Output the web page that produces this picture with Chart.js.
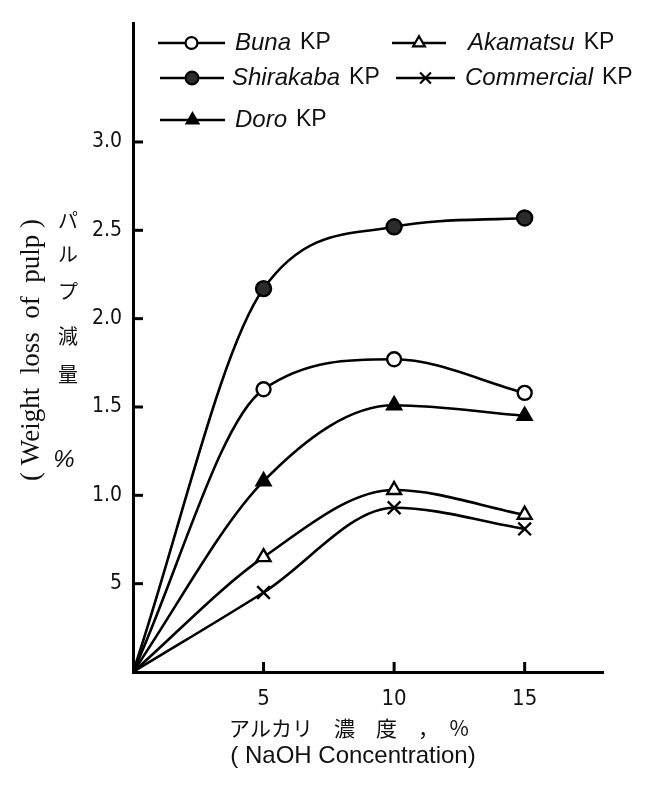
<!DOCTYPE html>
<html>
<head>
<meta charset="utf-8">
<script src="https://cdn.jsdelivr.net/npm/chart.js@4.4.1/dist/chart.umd.min.js"></script>
<style>
  html, body { margin: 0; padding: 0; background: #fff; }
  #wrap { width: 645px; height: 789px; }
</style>
</head>
<body>
<div id="wrap"><canvas id="chart" width="645" height="789"></canvas></div>
<script>
/* DATA */
const naoh = [0, 5, 10, 15];
const seriesNames = ["Buna", "Shirakaba", "Doro", "Akamatsu", "Commercial"];
const buna = [0, 1.60, 1.77, 1.58];
const shirakaba = [0, 2.17, 2.52, 2.57];
const doro = [0, 1.08, 1.51, 1.45];
const akamatsu = [0, 0.65, 1.03, 0.89];
const commercial = [0, 0.45, 0.93, 0.81];
const xTicks = [5, 10, 15];
const yTicks = [0.5, 1.0, 1.5, 2.0, 2.5, 3.0];
const yTickLabels = ["5", "1.0", "1.5", "2.0", "2.5", "3.0"];

const values = [buna, shirakaba, doro, akamatsu, commercial];

/* MARKER STYLES */
const markers = [
  { pointStyle: "circle", fill: "#fff", radius: 7 },
  { pointStyle: "circle", fill: "#2b2b2b", radius: 7.5 },
  { pointStyle: "triangle", fill: "#000", radius: 8 },
  { pointStyle: "triangle", fill: "#fff", radius: 8 },
  { pointStyle: "crossRot", fill: "#000", radius: 9 }
];

const datasets = seriesNames.map((name, i) => ({
  label: name + " KP",
  data: naoh.map((x, j) => ({ x: x, y: values[i][j] })),
  borderColor: "#000",
  borderWidth: 2.6,
  cubicInterpolationMode: "monotone",
  fill: false,
  pointStyle: markers[i].pointStyle,
  pointBackgroundColor: markers[i].fill,
  pointBorderColor: "#000",
  pointBorderWidth: 2.4,
  pointRadius: naoh.map(x => x === 0 ? 0 : markers[i].radius),
  pointHoverRadius: naoh.map(x => x === 0 ? 0 : markers[i].radius)
}));

/* LEGEND (drawn inside the plot, two columns) */
const legendSlots = [
  { ds: 0, x0: 158, x1: 225, y: 43, tx: 235 },
  { ds: 1, x0: 160, x1: 224, y: 78, tx: 232 },
  { ds: 2, x0: 160, x1: 225, y: 120, tx: 235 },
  { ds: 3, x0: 392, x1: 446, y: 43, tx: 468 },
  { ds: 4, x0: 396, x1: 455, y: 78, tx: 465 }
];

const legendPlugin = {
  id: "paperLegend",
  afterDraw(chart) {
    const ctx = chart.ctx;
    ctx.save();
    legendSlots.forEach(s => {
      const ds = chart.data.datasets[s.ds];
      const m = markers[s.ds];
      ctx.strokeStyle = "#000";
      ctx.lineWidth = 2.6;
      ctx.beginPath();
      ctx.moveTo(s.x0, s.y);
      ctx.lineTo(s.x1, s.y);
      ctx.stroke();
      ctx.fillStyle = m.fill;
      ctx.lineWidth = 2.2;
      Chart.helpers.drawPoint(ctx, {
        pointStyle: m.pointStyle,
        radius: m.radius * 0.85,
        rotation: 0,
        borderWidth: 2.2
      }, (s.x0 + s.x1) / 2, s.y);

      const name = ds.label.replace(" KP", "");
      ctx.fillStyle = "#111";
      ctx.textBaseline = "middle";
      ctx.textAlign = "left";
      ctx.font = "italic 24px 'Liberation Sans', sans-serif";
      ctx.fillText(name, s.tx, s.y);
      const w = ctx.measureText(name).width;
      ctx.font = "23px 'Liberation Sans', sans-serif";
      ctx.fillText("KP", s.tx + w + 9, s.y);
    });
    ctx.restore();
  }
};

/* INWARD TICK MARKS + AXIS TITLES */
const axisPlugin = {
  id: "paperAxes",
  afterDraw(chart) {
    const ctx = chart.ctx;
    const xs = chart.scales.x, ys = chart.scales.y;
    const area = chart.chartArea;
    ctx.save();
    ctx.strokeStyle = "#000";
    ctx.lineWidth = 3;
    xTicks.forEach(v => {
      const px = xs.getPixelForValue(v);
      ctx.beginPath();
      ctx.moveTo(px, area.bottom);
      ctx.lineTo(px, area.bottom - 10);
      ctx.stroke();
    });
    yTicks.forEach(v => {
      const py = ys.getPixelForValue(v);
      ctx.beginPath();
      ctx.moveTo(area.left, py);
      ctx.lineTo(area.left + 10, py);
      ctx.stroke();
    });

    ctx.fillStyle = "#111";
    // x title
    ctx.textBaseline = "middle";
    ctx.textAlign = "left";
    ctx.font = "21px 'Noto Sans CJK JP', sans-serif";
    ctx.fillText("アルカリ\u3000濃\u3000度\u3000，\u3000%", 229, 728);
    ctx.font = "24px 'Liberation Sans', sans-serif";
    ctx.textAlign = "center";
    ctx.fillText("( NaOH Concentration)", 353, 756);

    // y title, vertical Japanese
    ctx.font = "20px 'Noto Sans CJK JP', sans-serif";
    const jp = [["パ", 220], ["ル", 254], ["プ", 291], ["減", 336], ["量", 374]];
    jp.forEach(c => ctx.fillText(c[0], 68, c[1]));
    ctx.font = "italic 24px 'Liberation Sans', sans-serif";
    ctx.fillText("%", 64, 460);

    // y title, rotated English
    ctx.translate(32, 350);
    ctx.rotate(-Math.PI / 2);
    ctx.font = "27px 'Liberation Serif', serif";
    ctx.fillText("( Weight  loss  of  pulp )", 0, 0);
    ctx.restore();
  }
};

/* CHART */
const chart = new Chart(document.getElementById("chart"), {
  type: "line",
  data: { datasets: datasets },
  options: {
    responsive: false,
    animation: false,
    layout: { padding: { top: 12, right: 42, left: 0, bottom: 0 } },
    plugins: { legend: { display: false }, tooltip: { enabled: false } },
    scales: {
      x: {
        type: "linear",
        min: 0,
        max: 18,
        afterBuildTicks: s => { s.ticks = xTicks.map(v => ({ value: v })); },
        afterFit: s => { s.height = 117; },
        grid: { display: false, drawTicks: false },
        border: { display: true, color: "#000", width: 3 },
        ticks: {
          color: "#111",
          padding: 14,
          maxRotation: 0,
          font: { family: "'Liberation Sans Narrow', 'DejaVu Sans Condensed', sans-serif", size: 22 },
          callback: v => String(v)
        }
      },
      y: {
        type: "linear",
        min: 0,
        max: 3.67,
        afterBuildTicks: s => { s.ticks = yTicks.map(v => ({ value: v })); },
        afterFit: s => { s.width = 133; },
        grid: { display: false, drawTicks: false },
        border: { display: true, color: "#000", width: 3 },
        ticks: {
          color: "#111",
          padding: 11,
          font: { family: "'Liberation Sans Narrow', 'DejaVu Sans Condensed', sans-serif", size: 21 },
          callback: v => yTickLabels[yTicks.indexOf(v)]
        }
      }
    }
  },
  plugins: [legendPlugin, axisPlugin]
});
</script>
</body>
</html>
